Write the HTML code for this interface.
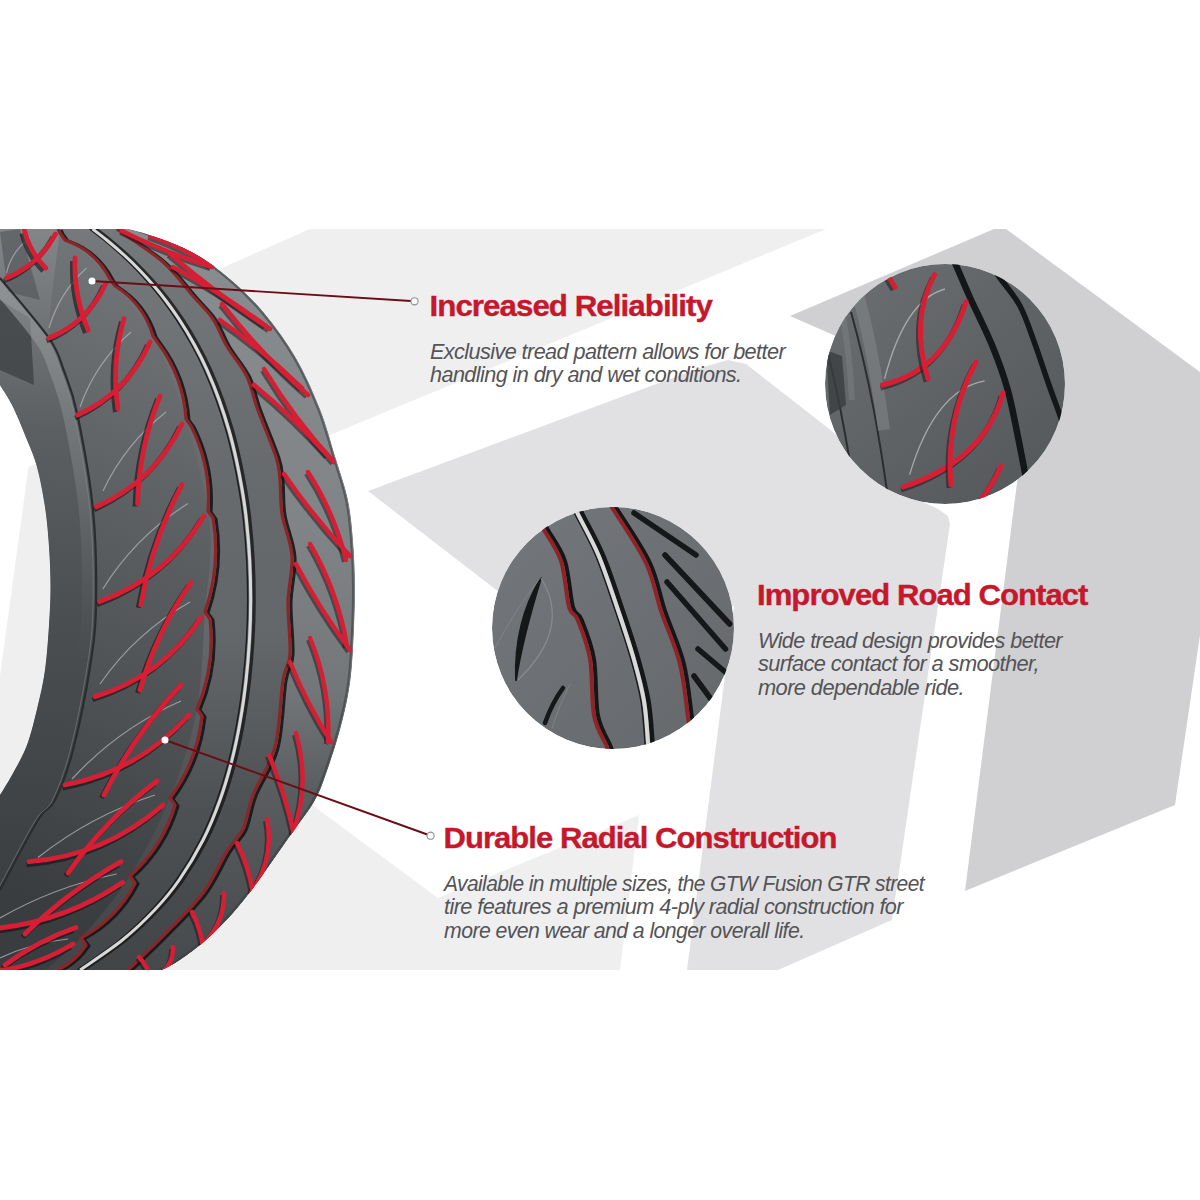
<!DOCTYPE html>
<html><head><meta charset="utf-8">
<style>
html,body{margin:0;padding:0;background:#fff;}
body{width:1200px;height:1200px;overflow:hidden;position:relative;}
svg{position:absolute;left:0;top:0;display:block;}
.h{font-family:"Liberation Sans",sans-serif;font-weight:bold;fill:#c5182c;letter-spacing:-0.9px;stroke:#c5182c;stroke-width:0.35px;}
.b{font-family:"Liberation Sans",sans-serif;font-style:italic;fill:#545457;letter-spacing:-0.6px;}
</style></head>
<body>
<svg width="1200" height="1200" viewBox="0 0 1200 1200">
<defs>
  <clipPath id="band"><rect x="0" y="229" width="1200" height="741"/></clipPath>
  <clipPath id="c1"><circle cx="945" cy="384" r="120"/></clipPath>
  <clipPath id="c2"><circle cx="613" cy="628" r="121"/></clipPath>
  <linearGradient id="tg" x1="300" y1="300" x2="40" y2="900" gradientUnits="userSpaceOnUse">
    <stop offset="0" stop-color="#75787b"/>
    <stop offset="0.25" stop-color="#66696c"/>
    <stop offset="0.45" stop-color="#5a5d60"/>
    <stop offset="0.7" stop-color="#4d5053"/>
    <stop offset="1" stop-color="#3a3d40"/>
  </linearGradient>
  <linearGradient id="sg" x1="0" y1="229" x2="0" y2="890" gradientUnits="userSpaceOnUse">
    <stop offset="0" stop-color="#85888b"/>
    <stop offset="0.3" stop-color="#5c5f62"/>
    <stop offset="0.6" stop-color="#4a4d50"/>
    <stop offset="1" stop-color="#3c3f42"/>
  </linearGradient>
  <linearGradient id="c1g" x1="850" y1="280" x2="1040" y2="500" gradientUnits="userSpaceOnUse">
    <stop offset="0" stop-color="#6a6d70"/>
    <stop offset="1" stop-color="#55585b"/>
  </linearGradient>
  <linearGradient id="c2g" x1="500" y1="520" x2="720" y2="740" gradientUnits="userSpaceOnUse">
    <stop offset="0" stop-color="#73767a"/>
    <stop offset="1" stop-color="#66696c"/>
  </linearGradient>
  <linearGradient id="lbg" x1="0" y1="280" x2="0" y2="660" gradientUnits="userSpaceOnUse">
    <stop offset="0" stop-color="#9a9da0" stop-opacity="0.7"/>
    <stop offset="0.5" stop-color="#8a8d90" stop-opacity="0.4"/>
    <stop offset="1" stop-color="#6a6d70" stop-opacity="0"/>
  </linearGradient>
  <linearGradient id="midg" x1="0" y1="229" x2="0" y2="970" gradientUnits="userSpaceOnUse">
    <stop offset="0" stop-color="#76797c"/>
    <stop offset="0.35" stop-color="#676a6d"/>
    <stop offset="0.55" stop-color="#646769"/>
    <stop offset="0.78" stop-color="#4e5154"/>
    <stop offset="1" stop-color="#424548"/>
  </linearGradient>
  <linearGradient id="outg" x1="0" y1="229" x2="0" y2="970" gradientUnits="userSpaceOnUse">
    <stop offset="0" stop-color="#8a8d90"/>
    <stop offset="0.4" stop-color="#818487"/>
    <stop offset="0.62" stop-color="#74777a"/>
    <stop offset="0.76" stop-color="#5a5d60"/>
    <stop offset="1" stop-color="#46494c"/>
  </linearGradient>
</defs>
<g id="bg" clip-path="url(#band)">
  <polygon fill="#efeff0" points="310,229 826,229 330,435 280,456 150,300"/>
  <polygon fill="#efeff0" points="28.5,467 120,430 120,900 0,900 0,676"/>
  <polygon fill="#efeff0" points="639,815 620,970 100,970 100,730 250,759 438,898"/>
  <polygon fill="#e1e1e3" points="368,491 640,390 700,368 728,360 746,364 828,428 910,496 938,509 948,516 950,524 892,920 778,970 687,970 734,606 613,628 530,616"/>
  <polygon fill="#d0d0d2" points="790,316 994,229 1006,229 1200,372 1200,635 1175,805 965,891 1018,475 945,384"/>
</g>
<g id="tire" clip-path="url(#band)">
<clipPath id="tclip"><path d="M0,229 L128,229  C144.2,232.7 174.2,242.7 190.0,251.0 C205.8,259.3 217.5,268.5 230.0,279.0 C242.5,289.5 254.0,300.8 265.0,314.0 C276.0,327.2 286.8,342.2 296.0,358.0 C305.2,373.8 313.3,392.2 320.0,409.0 C326.7,425.8 331.3,443.8 336.0,459.0 C340.7,474.2 345.2,486.5 348.0,500.0 C350.8,513.5 351.8,525.0 353.0,540.0 C354.2,555.0 355.0,571.7 355.0,590.0 C355.0,608.3 354.0,633.3 353.0,650.0 C352.0,666.7 351.2,676.7 349.0,690.0 C346.8,703.3 343.8,716.0 340.0,730.0 C336.2,744.0 330.3,762.0 326.0,774.0 C321.7,786.0 320.0,791.7 314.0,802.0 C308.0,812.3 298.7,823.7 290.0,836.0 C281.3,848.3 271.3,863.3 262.0,876.0 C252.7,888.7 243.3,901.3 234.0,912.0 C224.7,922.7 215.0,932.0 206.0,940.0 C197.0,948.0 187.3,955.0 180.0,960.0 C172.7,965.0 165.0,968.3 162.0,970.0 L0,970 L0,795  C2.0,791.7 7.5,783.3 12.0,775.0 C16.5,766.7 22.8,756.3 27.0,745.0 C31.2,733.7 34.5,719.5 37.5,707.0 C40.5,694.5 43.1,683.7 45.0,670.0 C46.9,656.3 48.1,638.8 49.0,625.0 C49.9,611.2 50.5,600.0 50.5,587.0 C50.5,574.0 49.9,560.3 49.0,547.0 C48.1,533.7 47.0,520.3 45.0,507.0 C43.0,493.7 40.0,478.2 37.0,467.0 C34.0,455.8 31.0,450.0 27.0,440.0 C23.0,430.0 17.5,416.2 13.0,407.0 C8.5,397.8 2.2,388.7 0.0,385.0 Z"/></clipPath><g clip-path="url(#tclip)">
<path d="M0,229 L128,229  C144.2,232.7 174.2,242.7 190.0,251.0 C205.8,259.3 217.5,268.5 230.0,279.0 C242.5,289.5 254.0,300.8 265.0,314.0 C276.0,327.2 286.8,342.2 296.0,358.0 C305.2,373.8 313.3,392.2 320.0,409.0 C326.7,425.8 331.3,443.8 336.0,459.0 C340.7,474.2 345.2,486.5 348.0,500.0 C350.8,513.5 351.8,525.0 353.0,540.0 C354.2,555.0 355.0,571.7 355.0,590.0 C355.0,608.3 354.0,633.3 353.0,650.0 C352.0,666.7 351.2,676.7 349.0,690.0 C346.8,703.3 343.8,716.0 340.0,730.0 C336.2,744.0 330.3,762.0 326.0,774.0 C321.7,786.0 320.0,791.7 314.0,802.0 C308.0,812.3 298.7,823.7 290.0,836.0 C281.3,848.3 271.3,863.3 262.0,876.0 C252.7,888.7 243.3,901.3 234.0,912.0 C224.7,922.7 215.0,932.0 206.0,940.0 C197.0,948.0 187.3,955.0 180.0,960.0 C172.7,965.0 165.0,968.3 162.0,970.0 L0,970 L0,795  C2.0,791.7 7.5,783.3 12.0,775.0 C16.5,766.7 22.8,756.3 27.0,745.0 C31.2,733.7 34.5,719.5 37.5,707.0 C40.5,694.5 43.1,683.7 45.0,670.0 C46.9,656.3 48.1,638.8 49.0,625.0 C49.9,611.2 50.5,600.0 50.5,587.0 C50.5,574.0 49.9,560.3 49.0,547.0 C48.1,533.7 47.0,520.3 45.0,507.0 C43.0,493.7 40.0,478.2 37.0,467.0 C34.0,455.8 31.0,450.0 27.0,440.0 C23.0,430.0 17.5,416.2 13.0,407.0 C8.5,397.8 2.2,388.7 0.0,385.0 Z" fill="url(#tg)"/>
<path d="M58.0,229.0 C66.7,237.3 94.2,261.2 110.0,279.0 C125.8,296.8 140.3,312.7 153.0,336.0 C165.7,359.3 176.8,389.8 186.0,419.0 C195.2,448.2 204.0,487.5 208.0,511.0 C212.0,534.5 210.5,543.2 210.0,560.0 C209.5,576.8 207.2,587.2 205.0,612.0 C202.8,636.8 202.8,678.0 197.0,709.0 C191.2,740.0 181.2,770.2 170.0,798.0 C158.8,825.8 144.8,852.7 130.0,876.0 C115.2,899.3 96.0,921.5 81.0,938.0 C66.0,954.5 46.8,968.8 40.0,975.0 L128.0,970.0  C133.8,964.3 150.5,948.8 163.0,936.0 C175.5,923.2 192.3,907.2 203.0,893.0 C213.7,878.8 220.3,861.7 227.0,851.0 C233.7,840.3 238.7,838.3 243.0,829.0 C247.3,819.7 247.7,808.7 253.0,795.0 C258.3,781.3 270.0,766.2 275.0,747.0 C280.0,727.8 280.5,695.5 283.0,680.0 C285.5,664.5 289.2,667.0 290.0,654.0 C290.8,641.0 287.7,618.3 288.0,602.0 C288.3,585.7 293.0,570.7 292.0,556.0 C291.0,541.3 284.0,526.7 282.0,514.0 C280.0,501.3 281.0,489.5 280.0,480.0 C279.0,470.5 279.8,468.8 276.0,457.0 C272.2,445.2 262.4,422.5 257.5,409.0 C252.6,395.5 251.8,386.5 246.7,376.0 C241.6,365.5 232.3,355.5 226.7,346.0 C221.1,336.5 218.6,327.3 213.0,319.0 C207.4,310.7 201.3,305.5 193.0,296.0 C184.7,286.5 175.7,273.2 163.0,262.0 C150.3,250.8 124.4,234.5 116.7,229.0 Z" fill="url(#midg)"/>
<path d="M116.7,229.0 C124.4,234.5 150.3,250.8 163.0,262.0 C175.7,273.2 184.7,286.5 193.0,296.0 C201.3,305.5 207.4,310.7 213.0,319.0 C218.6,327.3 221.1,336.5 226.7,346.0 C232.3,355.5 241.6,365.5 246.7,376.0 C251.8,386.5 252.6,395.5 257.5,409.0 C262.4,422.5 272.2,445.2 276.0,457.0 C279.8,468.8 279.0,470.5 280.0,480.0 C281.0,489.5 280.0,501.3 282.0,514.0 C284.0,526.7 291.0,541.3 292.0,556.0 C293.0,570.7 288.3,585.7 288.0,602.0 C287.7,618.3 290.8,641.0 290.0,654.0 C289.2,667.0 285.5,664.5 283.0,680.0 C280.5,695.5 280.0,727.8 275.0,747.0 C270.0,766.2 258.3,781.3 253.0,795.0 C247.7,808.7 247.3,819.7 243.0,829.0 C238.7,838.3 233.7,840.3 227.0,851.0 C220.3,861.7 213.7,878.8 203.0,893.0 C192.3,907.2 175.5,923.2 163.0,936.0 C150.5,948.8 133.8,964.3 128.0,970.0 L162.0,970.0  C165.0,968.3 172.7,965.0 180.0,960.0 C187.3,955.0 197.0,948.0 206.0,940.0 C215.0,932.0 224.7,922.7 234.0,912.0 C243.3,901.3 252.7,888.7 262.0,876.0 C271.3,863.3 281.3,848.3 290.0,836.0 C298.7,823.7 308.0,812.3 314.0,802.0 C320.0,791.7 321.7,786.0 326.0,774.0 C330.3,762.0 336.2,744.0 340.0,730.0 C343.8,716.0 346.8,703.3 349.0,690.0 C351.2,676.7 352.0,666.7 353.0,650.0 C354.0,633.3 355.0,608.3 355.0,590.0 C355.0,571.7 354.2,555.0 353.0,540.0 C351.8,525.0 350.8,513.5 348.0,500.0 C345.2,486.5 340.7,474.2 336.0,459.0 C331.3,443.8 326.7,425.8 320.0,409.0 C313.3,392.2 305.2,373.8 296.0,358.0 C286.8,342.2 276.0,327.2 265.0,314.0 C254.0,300.8 242.5,289.5 230.0,279.0 C217.5,268.5 205.8,259.3 190.0,251.0 C174.2,242.7 144.2,232.7 135.0,229.0 Z" fill="url(#outg)"/>
<path d="M0,229 L60,229  C58.2,247.2 48.3,314.3 49.0,338.0 C49.7,361.7 59.2,358.2 64.0,371.0 C68.8,383.8 72.7,391.8 77.5,415.0 C82.3,438.2 89.9,478.3 93.0,510.0 C96.1,541.7 96.5,578.8 96.0,605.0 C95.5,631.2 93.8,642.8 90.0,667.0 C86.2,691.2 78.8,727.8 73.0,750.0 C67.2,772.2 60.8,788.3 55.0,800.0 C49.2,811.7 47.2,805.0 38.0,820.0 C28.8,835.0 6.3,878.3 0.0,890.0 Z" fill="url(#sg)" opacity="0.9"/>
<path d="M0,300 L30,318 L34,385 L0,370 Z" fill="#3f4245" opacity="0.8"/>
<path d="M0,232 L20,229 L40,300 L8,292 Z" fill="#505356" opacity="0.6"/>
<path d="M-8.0,280.0 C0.2,290.0 30.3,324.5 41.0,340.0 C51.7,355.5 51.2,360.2 56.0,373.0 C60.8,385.8 64.7,393.8 69.5,417.0 C74.3,440.2 81.9,480.3 85.0,512.0 C88.1,543.7 88.5,580.8 88.0,607.0 C87.5,633.2 83.0,658.7 82.0,669.0" fill="none" stroke="url(#lbg)" stroke-width="12"/>
<path d="M0.0,278.0 C8.2,288.0 38.3,322.5 49.0,338.0 C59.7,353.5 59.2,358.2 64.0,371.0 C68.8,383.8 72.7,391.8 77.5,415.0 C82.3,438.2 89.9,478.3 93.0,510.0 C96.1,541.7 96.5,578.8 96.0,605.0 C95.5,631.2 93.8,642.8 90.0,667.0 C86.2,691.2 78.8,727.8 73.0,750.0 C67.2,772.2 60.8,788.3 55.0,800.0 C49.2,811.7 47.2,805.0 38.0,820.0 C28.8,835.0 6.3,878.3 0.0,890.0" fill="none" stroke="#2a2c2e" stroke-width="2.2"/>
<path d="M-3.0,279.0 C5.2,289.0 35.3,323.5 46.0,339.0 C56.7,354.5 56.2,359.2 61.0,372.0 C65.8,384.8 69.7,392.8 74.5,416.0 C79.3,439.2 86.9,479.3 90.0,511.0 C93.1,542.7 93.5,579.8 93.0,606.0 C92.5,632.2 90.8,643.8 87.0,668.0 C83.2,692.2 75.8,728.8 70.0,751.0 C64.2,773.2 57.8,789.3 52.0,801.0 C46.2,812.7 44.2,806.0 35.0,821.0 C25.8,836.0 3.3,879.3 -3.0,891.0" fill="none" stroke="#8a8d90" stroke-width="1" opacity="0.5"/>
<path d="M58.0,229.0 Q59.0,231.0 60.0,233.0 L65.0,240.0 Q95.4,250.4 110.0,279.0 L115.0,286.0 Q143.6,303.7 153.0,336.0 L158.0,343.0 Q183.3,376.9 186.0,419.0 L191.0,426.0 Q211.3,466.1 208.0,511.0 L213.0,518.0 Q221.0,566.0 205.0,612.0 L210.0,619.0 Q215.4,665.7 197.0,709.0 L202.0,716.0 Q197.2,761.4 170.0,798.0 L175.0,805.0 Q162.6,846.9 130.0,876.0 L135.0,883.0 Q116.6,918.9 81.0,938.0 L86.0,945.0 Q69.6,970.1 40.0,975.0" fill="none" stroke="#141516" stroke-width="3" opacity="0.9" transform="translate(3,1)"/>
<path d="M58.0,229.0 Q59.0,231.0 60.0,233.0 L65.0,240.0 Q95.4,250.4 110.0,279.0 L115.0,286.0 Q143.6,303.7 153.0,336.0 L158.0,343.0 Q183.3,376.9 186.0,419.0 L191.0,426.0 Q211.3,466.1 208.0,511.0 L213.0,518.0 Q221.0,566.0 205.0,612.0 L210.0,619.0 Q215.4,665.7 197.0,709.0 L202.0,716.0 Q197.2,761.4 170.0,798.0 L175.0,805.0 Q162.6,846.9 130.0,876.0 L135.0,883.0 Q116.6,918.9 81.0,938.0 L86.0,945.0 Q69.6,970.1 40.0,975.0" fill="none" stroke="#8c2528" stroke-width="3.2" stroke-linejoin="round"/>
<path d="M96.2,229.0 C98.5,230.8 105.0,235.7 110.2,240.0 C115.4,244.3 122.1,250.0 127.6,255.0 C133.1,260.0 138.2,265.0 143.0,270.0 C147.8,275.0 152.4,280.0 156.7,285.0 C161.0,290.0 164.5,294.2 168.9,300.0 C173.3,305.8 178.2,312.5 183.1,320.0 C188.0,327.5 193.5,336.7 198.1,345.0 C202.7,353.3 206.5,360.8 210.6,370.0 C214.7,379.2 219.1,390.0 222.7,400.0 C226.3,410.0 229.5,420.0 232.4,430.0 C235.3,440.0 237.7,450.0 239.9,460.0 C242.1,470.0 244.0,480.0 245.7,490.0 C247.4,500.0 248.7,508.3 249.9,520.0 C251.2,531.7 252.5,546.7 253.2,560.0 C253.9,573.3 254.2,586.7 254.2,600.0 C254.2,613.3 253.8,626.7 253.0,640.0 C252.2,653.3 251.1,666.7 249.6,680.0 C248.1,693.3 246.2,706.7 243.9,720.0 C241.6,733.3 238.9,746.7 235.5,760.0 C232.1,773.3 228.3,786.7 223.5,800.0 C218.7,813.3 213.4,826.7 206.6,840.0 C199.8,853.3 190.8,868.3 182.7,880.0 C174.6,891.7 167.6,900.0 158.1,910.0 C148.6,920.0 138.3,930.0 125.9,940.0 C113.5,950.0 90.7,965.0 83.7,970.0" fill="none" stroke="#151617" stroke-width="3.2" opacity="0.8"/>
<path d="M89.7,229.0 C92.0,230.8 98.5,235.7 103.7,240.0 C108.9,244.3 115.6,250.0 121.1,255.0 C126.6,260.0 131.7,265.0 136.5,270.0 C141.3,275.0 145.9,280.0 150.2,285.0 C154.5,290.0 158.0,294.2 162.4,300.0 C166.8,305.8 171.7,312.5 176.6,320.0 C181.5,327.5 187.0,336.7 191.6,345.0 C196.2,353.3 200.0,360.8 204.1,370.0 C208.2,379.2 212.6,390.0 216.2,400.0 C219.8,410.0 223.0,420.0 225.9,430.0 C228.8,440.0 231.2,450.0 233.4,460.0 C235.6,470.0 237.5,480.0 239.2,490.0 C240.9,500.0 242.2,508.3 243.4,520.0 C244.7,531.7 246.0,546.7 246.7,560.0 C247.4,573.3 247.7,586.7 247.7,600.0 C247.7,613.3 247.3,626.7 246.5,640.0 C245.7,653.3 244.6,666.7 243.1,680.0 C241.6,693.3 239.8,706.7 237.4,720.0 C235.1,733.3 232.4,746.7 229.0,760.0 C225.6,773.3 221.8,786.7 217.0,800.0 C212.2,813.3 206.9,826.7 200.1,840.0 C193.3,853.3 184.3,868.3 176.2,880.0 C168.1,891.7 161.1,900.0 151.6,910.0 C142.1,920.0 131.8,930.0 119.4,940.0 C107.0,950.0 84.2,965.0 77.2,970.0" fill="none" stroke="#1c1d1e" stroke-width="1.5"/>
<path d="M92.7,229.0 C95.0,230.8 101.5,235.7 106.7,240.0 C111.9,244.3 118.6,250.0 124.1,255.0 C129.6,260.0 134.7,265.0 139.5,270.0 C144.3,275.0 148.9,280.0 153.2,285.0 C157.5,290.0 161.0,294.2 165.4,300.0 C169.8,305.8 174.7,312.5 179.6,320.0 C184.5,327.5 190.0,336.7 194.6,345.0 C199.2,353.3 203.0,360.8 207.1,370.0 C211.2,379.2 215.6,390.0 219.2,400.0 C222.8,410.0 226.0,420.0 228.9,430.0 C231.8,440.0 234.2,450.0 236.4,460.0 C238.6,470.0 240.5,480.0 242.2,490.0 C243.9,500.0 245.2,508.3 246.4,520.0 C247.7,531.7 249.0,546.7 249.7,560.0 C250.4,573.3 250.7,586.7 250.7,600.0 C250.7,613.3 250.3,626.7 249.5,640.0 C248.7,653.3 247.6,666.7 246.1,680.0 C244.6,693.3 242.8,706.7 240.4,720.0 C238.1,733.3 235.4,746.7 232.0,760.0 C228.6,773.3 224.8,786.7 220.0,800.0 C215.2,813.3 209.9,826.7 203.1,840.0 C196.3,853.3 187.3,868.3 179.2,880.0 C171.1,891.7 164.1,900.0 154.6,910.0 C145.1,920.0 134.8,930.0 122.4,940.0 C110.0,950.0 87.2,965.0 80.2,970.0" fill="none" stroke="#d8d8d8" stroke-width="3"/>
<path d="M119.7,230.0 C127.4,235.5 153.3,251.8 166.0,263.0 C178.7,274.2 187.7,287.5 196.0,297.0 C204.3,306.5 210.4,311.7 216.0,320.0 C221.6,328.3 224.1,337.5 229.7,347.0 C235.3,356.5 244.6,366.5 249.7,377.0 C254.8,387.5 255.6,396.5 260.5,410.0 C265.4,423.5 275.2,446.2 279.0,458.0 C282.8,469.8 282.0,471.5 283.0,481.0 C284.0,490.5 283.0,502.3 285.0,515.0 C287.0,527.7 294.0,542.3 295.0,557.0 C296.0,571.7 291.3,586.7 291.0,603.0 C290.7,619.3 293.8,642.0 293.0,655.0 C292.2,668.0 288.5,665.5 286.0,681.0 C283.5,696.5 283.0,728.8 278.0,748.0 C273.0,767.2 261.3,782.3 256.0,796.0 C250.7,809.7 250.3,820.7 246.0,830.0 C241.7,839.3 236.7,841.3 230.0,852.0 C223.3,862.7 216.7,879.8 206.0,894.0 C195.3,908.2 178.5,924.2 166.0,937.0 C153.5,949.8 136.8,965.3 131.0,971.0" fill="none" stroke="#141516" stroke-width="3" opacity="0.9"/>
<path d="M116.7,229.0 C124.4,234.5 150.3,250.8 163.0,262.0 C175.7,273.2 184.7,286.5 193.0,296.0 C201.3,305.5 207.4,310.7 213.0,319.0 C218.6,327.3 221.1,336.5 226.7,346.0 C232.3,355.5 241.6,365.5 246.7,376.0 C251.8,386.5 252.6,395.5 257.5,409.0 C262.4,422.5 272.2,445.2 276.0,457.0 C279.8,468.8 279.0,470.5 280.0,480.0 C281.0,489.5 280.0,501.3 282.0,514.0 C284.0,526.7 291.0,541.3 292.0,556.0 C293.0,570.7 288.3,585.7 288.0,602.0 C287.7,618.3 290.8,641.0 290.0,654.0 C289.2,667.0 285.5,664.5 283.0,680.0 C280.5,695.5 280.0,727.8 275.0,747.0 C270.0,766.2 258.3,781.3 253.0,795.0 C247.7,808.7 247.3,819.7 243.0,829.0 C238.7,838.3 233.7,840.3 227.0,851.0 C220.3,861.7 213.7,878.8 203.0,893.0 C192.3,907.2 175.5,923.2 163.0,936.0 C150.5,948.8 133.8,964.3 128.0,970.0" fill="none" stroke="#8c2528" stroke-width="3.2"/>
<path d="M133.0,229.0 C142.2,232.7 172.2,242.7 188.0,251.0 C203.8,259.3 215.5,268.5 228.0,279.0 C240.5,289.5 252.0,300.8 263.0,314.0 C274.0,327.2 284.8,342.2 294.0,358.0 C303.2,373.8 311.3,392.2 318.0,409.0 C324.7,425.8 329.3,443.8 334.0,459.0 C338.7,474.2 343.2,486.5 346.0,500.0 C348.8,513.5 349.8,525.0 351.0,540.0 C352.2,555.0 353.0,571.7 353.0,590.0 C353.0,608.3 352.0,633.3 351.0,650.0 C350.0,666.7 349.2,676.7 347.0,690.0 C344.8,703.3 341.8,716.0 338.0,730.0 C334.2,744.0 328.3,762.0 324.0,774.0 C319.7,786.0 318.0,791.7 312.0,802.0 C306.0,812.3 296.7,823.7 288.0,836.0 C279.3,848.3 269.3,863.3 260.0,876.0 C250.7,888.7 241.3,901.3 232.0,912.0 C222.7,922.7 213.0,932.0 204.0,940.0 C195.0,948.0 185.3,955.0 178.0,960.0 C170.7,965.0 163.0,968.3 160.0,970.0" fill="none" stroke="#3a3d40" stroke-width="2" opacity="0.6"/>
<path d="M6.5,273.0 Q11.6,251.0 30.0,238.0" fill="none" stroke="#aaaeb0" stroke-width="1.2" opacity="0.8"/>
<path d="M6.5,278.0 Q39.0,264.9 55.5,234.0" fill="none" stroke="#111" stroke-width="5" opacity="0.6" transform="translate(-2.5,3)"/>
<path d="M24.5,230.5 Q29.9,252.2 45.7,268.0" fill="none" stroke="#111" stroke-width="5" opacity="0.6" transform="translate(-2.5,3)"/>
<path d="M6.5,278.0 Q39.0,264.9 55.5,234.0" fill="none" stroke="#d61f35" stroke-width="4.8" stroke-linecap="round"/>
<path d="M24.5,230.5 Q29.9,252.2 45.7,268.0" fill="none" stroke="#d61f35" stroke-width="4.8" stroke-linecap="round"/>
<path d="M49.0,328.0 Q59.3,292.7 86.6,268.0" fill="none" stroke="#aaaeb0" stroke-width="1.2" opacity="0.8"/>
<path d="M49.0,338.0 Q88.6,322.0 106.0,283.0" fill="none" stroke="#111" stroke-width="5" opacity="0.6" transform="translate(-2.5,3)"/>
<path d="M75.0,258.0 Q73.6,295.4 88.0,330.0" fill="none" stroke="#111" stroke-width="5" opacity="0.6" transform="translate(-2.5,3)"/>
<path d="M49.0,338.0 Q88.6,322.0 106.0,283.0" fill="none" stroke="#d61f35" stroke-width="4.8" stroke-linecap="round"/>
<path d="M75.0,258.0 Q73.6,295.4 88.0,330.0" fill="none" stroke="#d61f35" stroke-width="4.8" stroke-linecap="round"/>
<path d="M80.0,407.0 Q95.6,362.8 131.0,332.0" fill="none" stroke="#aaaeb0" stroke-width="1.2" opacity="0.8"/>
<path d="M77.5,415.0 Q127.9,392.6 150.0,342.0" fill="none" stroke="#111" stroke-width="5" opacity="0.6" transform="translate(-2.5,3)"/>
<path d="M124.0,318.7 Q111.0,363.2 118.0,409.0" fill="none" stroke="#111" stroke-width="5" opacity="0.6" transform="translate(-2.5,3)"/>
<path d="M77.5,415.0 Q127.9,392.6 150.0,342.0" fill="none" stroke="#d61f35" stroke-width="4.8" stroke-linecap="round"/>
<path d="M124.0,318.7 Q111.0,363.2 118.0,409.0" fill="none" stroke="#d61f35" stroke-width="4.8" stroke-linecap="round"/>
<path d="M103.0,491.0 Q125.1,444.0 166.0,412.0" fill="none" stroke="#aaaeb0" stroke-width="1.2" opacity="0.8"/>
<path d="M96.5,506.7 Q154.5,481.2 182.0,424.0" fill="none" stroke="#111" stroke-width="5" opacity="0.6" transform="translate(-2.5,3)"/>
<path d="M160.0,396.0 Q139.0,447.7 137.6,503.5" fill="none" stroke="#111" stroke-width="5" opacity="0.6" transform="translate(-2.5,3)"/>
<path d="M96.5,506.7 Q154.5,481.2 182.0,424.0" fill="none" stroke="#d61f35" stroke-width="4.8" stroke-linecap="round"/>
<path d="M160.0,396.0 Q139.0,447.7 137.6,503.5" fill="none" stroke="#d61f35" stroke-width="4.8" stroke-linecap="round"/>
<path d="M102.8,589.0 Q135.5,536.4 188.0,503.5" fill="none" stroke="#aaaeb0" stroke-width="1.2" opacity="0.8"/>
<path d="M99.6,601.6 Q167.0,577.4 204.0,516.0" fill="none" stroke="#111" stroke-width="5" opacity="0.6" transform="translate(-2.5,3)"/>
<path d="M182.0,484.6 Q151.9,541.5 140.8,604.8" fill="none" stroke="#111" stroke-width="5" opacity="0.6" transform="translate(-2.5,3)"/>
<path d="M99.6,601.6 Q167.0,577.4 204.0,516.0" fill="none" stroke="#d61f35" stroke-width="4.8" stroke-linecap="round"/>
<path d="M182.0,484.6 Q151.9,541.5 140.8,604.8" fill="none" stroke="#d61f35" stroke-width="4.8" stroke-linecap="round"/>
<path d="M100.0,684.0 Q135.6,632.7 190.0,602.0" fill="none" stroke="#aaaeb0" stroke-width="1.2" opacity="0.8"/>
<path d="M95.0,696.6 Q162.4,676.3 201.0,617.5" fill="none" stroke="#111" stroke-width="5" opacity="0.6" transform="translate(-2.5,3)"/>
<path d="M191.0,582.6 Q156.5,632.0 140.0,690.0" fill="none" stroke="#111" stroke-width="5" opacity="0.6" transform="translate(-2.5,3)"/>
<path d="M95.0,696.6 Q162.4,676.3 201.0,617.5" fill="none" stroke="#d61f35" stroke-width="4.8" stroke-linecap="round"/>
<path d="M191.0,582.6 Q156.5,632.0 140.0,690.0" fill="none" stroke="#d61f35" stroke-width="4.8" stroke-linecap="round"/>
<path d="M72.0,779.0 Q118.4,728.6 181.0,701.0" fill="none" stroke="#aaaeb0" stroke-width="1.2" opacity="0.8"/>
<path d="M65.0,785.0 Q138.8,770.9 189.0,715.0" fill="none" stroke="#111" stroke-width="5" opacity="0.6" transform="translate(-2.5,3)"/>
<path d="M181.0,685.0 Q134.3,734.3 104.0,795.0" fill="none" stroke="#111" stroke-width="5" opacity="0.6" transform="translate(-2.5,3)"/>
<path d="M65.0,785.0 Q138.8,770.9 189.0,715.0" fill="none" stroke="#d61f35" stroke-width="4.8" stroke-linecap="round"/>
<path d="M181.0,685.0 Q134.3,734.3 104.0,795.0" fill="none" stroke="#d61f35" stroke-width="4.8" stroke-linecap="round"/>
<path d="M38.0,857.5 Q90.8,815.7 155.0,795.0" fill="none" stroke="#aaaeb0" stroke-width="1.2" opacity="0.8"/>
<path d="M29.0,861.7 Q105.4,855.5 163.0,805.0" fill="none" stroke="#111" stroke-width="5" opacity="0.6" transform="translate(-2.5,3)"/>
<path d="M157.0,781.0 Q105.3,820.0 68.0,873.0" fill="none" stroke="#111" stroke-width="5" opacity="0.6" transform="translate(-2.5,3)"/>
<path d="M29.0,861.7 Q105.4,855.5 163.0,805.0" fill="none" stroke="#d61f35" stroke-width="4.8" stroke-linecap="round"/>
<path d="M157.0,781.0 Q105.3,820.0 68.0,873.0" fill="none" stroke="#d61f35" stroke-width="4.8" stroke-linecap="round"/>
<path d="M0.0,918.0 Q54.8,886.6 116.7,874.0" fill="none" stroke="#aaaeb0" stroke-width="1.2" opacity="0.8"/>
<path d="M0.0,928.0 Q66.8,920.2 122.5,882.5" fill="none" stroke="#111" stroke-width="5" opacity="0.6" transform="translate(-2.5,3)"/>
<path d="M121.0,861.7 Q68.2,891.5 25.0,934.0" fill="none" stroke="#111" stroke-width="5" opacity="0.6" transform="translate(-2.5,3)"/>
<path d="M0.0,928.0 Q66.8,920.2 122.5,882.5" fill="none" stroke="#d61f35" stroke-width="4.8" stroke-linecap="round"/>
<path d="M121.0,861.7 Q68.2,891.5 25.0,934.0" fill="none" stroke="#d61f35" stroke-width="4.8" stroke-linecap="round"/>
<path d="M0.0,958.0 Q32.4,942.7 68.0,939.0" fill="none" stroke="#aaaeb0" stroke-width="1.2" opacity="0.8"/>
<path d="M-10.0,972.0 Q34.7,967.5 73.0,944.0" fill="none" stroke="#111" stroke-width="5" opacity="0.6" transform="translate(-2.5,3)"/>
<path d="M76.0,927.5 Q37.7,940.9 5.0,965.0" fill="none" stroke="#111" stroke-width="5" opacity="0.6" transform="translate(-2.5,3)"/>
<path d="M-10.0,972.0 Q34.7,967.5 73.0,944.0" fill="none" stroke="#d61f35" stroke-width="4.8" stroke-linecap="round"/>
<path d="M76.0,927.5 Q37.7,940.9 5.0,965.0" fill="none" stroke="#d61f35" stroke-width="4.8" stroke-linecap="round"/>
<path d="M122.0,231.0 Q165.5,252.7 212.0,267.0" fill="none" stroke="#111" stroke-width="4" opacity="0.5" transform="translate(-2,2)"/>
<path d="M150.0,236.0 Q182.7,247.4 212.0,266.0" fill="none" stroke="#111" stroke-width="4" opacity="0.5" transform="translate(-2,2)"/>
<path d="M122.0,231.0 Q165.5,252.7 212.0,267.0" fill="none" stroke="#d61f35" stroke-width="4.5" stroke-linecap="round"/>
<path d="M150.0,236.0 Q182.7,247.4 212.0,266.0" fill="none" stroke="#d61f35" stroke-width="4.5" stroke-linecap="round"/>
<path d="M170.0,254.0 Q217.6,294.7 270.0,329.0" fill="none" stroke="#111" stroke-width="4" opacity="0.5" transform="translate(-2,2)"/>
<path d="M173.0,267.0 Q221.6,293.1 266.0,326.0" fill="none" stroke="#111" stroke-width="4" opacity="0.5" transform="translate(-2,2)"/>
<path d="M170.0,254.0 Q217.6,294.7 270.0,329.0" fill="none" stroke="#d61f35" stroke-width="4.5" stroke-linecap="round"/>
<path d="M173.0,267.0 Q221.6,293.1 266.0,326.0" fill="none" stroke="#d61f35" stroke-width="4.5" stroke-linecap="round"/>
<path d="M222.0,304.0 Q260.6,353.6 308.0,395.0" fill="none" stroke="#111" stroke-width="4" opacity="0.5" transform="translate(-2,2)"/>
<path d="M220.0,320.0 Q263.6,350.9 302.0,388.0" fill="none" stroke="#111" stroke-width="4" opacity="0.5" transform="translate(-2,2)"/>
<path d="M222.0,304.0 Q260.6,353.6 308.0,395.0" fill="none" stroke="#d61f35" stroke-width="4.5" stroke-linecap="round"/>
<path d="M220.0,320.0 Q263.6,350.9 302.0,388.0" fill="none" stroke="#d61f35" stroke-width="4.5" stroke-linecap="round"/>
<path d="M264.0,369.0 Q294.2,419.1 334.0,462.0" fill="none" stroke="#111" stroke-width="4" opacity="0.5" transform="translate(-2,2)"/>
<path d="M254.0,385.0 Q293.8,417.6 328.0,456.0" fill="none" stroke="#111" stroke-width="4" opacity="0.5" transform="translate(-2,2)"/>
<path d="M264.0,369.0 Q294.2,419.1 334.0,462.0" fill="none" stroke="#d61f35" stroke-width="4.5" stroke-linecap="round"/>
<path d="M254.0,385.0 Q293.8,417.6 328.0,456.0" fill="none" stroke="#d61f35" stroke-width="4.5" stroke-linecap="round"/>
<path d="M284.0,474.0 Q313.9,517.5 350.0,556.0" fill="none" stroke="#111" stroke-width="4" opacity="0.5" transform="translate(-2,2)"/>
<path d="M308.0,472.0 Q334.3,512.8 346.0,560.0" fill="none" stroke="#111" stroke-width="4" opacity="0.5" transform="translate(-2,2)"/>
<path d="M284.0,474.0 Q313.9,517.5 350.0,556.0" fill="none" stroke="#d61f35" stroke-width="4.5" stroke-linecap="round"/>
<path d="M308.0,472.0 Q334.3,512.8 346.0,560.0" fill="none" stroke="#d61f35" stroke-width="4.5" stroke-linecap="round"/>
<path d="M296.0,564.0 Q319.6,609.1 350.0,650.0" fill="none" stroke="#111" stroke-width="4" opacity="0.5" transform="translate(-2,2)"/>
<path d="M310.0,544.0 Q337.9,591.6 347.0,646.0" fill="none" stroke="#111" stroke-width="4" opacity="0.5" transform="translate(-2,2)"/>
<path d="M296.0,564.0 Q319.6,609.1 350.0,650.0" fill="none" stroke="#d61f35" stroke-width="4.5" stroke-linecap="round"/>
<path d="M310.0,544.0 Q337.9,591.6 347.0,646.0" fill="none" stroke="#d61f35" stroke-width="4.5" stroke-linecap="round"/>
<path d="M290.0,662.0 Q306.9,703.8 331.0,742.0" fill="none" stroke="#111" stroke-width="4" opacity="0.5" transform="translate(-2,2)"/>
<path d="M310.0,638.0 Q330.8,688.0 328.0,742.0" fill="none" stroke="#111" stroke-width="4" opacity="0.5" transform="translate(-2,2)"/>
<path d="M290.0,662.0 Q306.9,703.8 331.0,742.0" fill="none" stroke="#d61f35" stroke-width="4.5" stroke-linecap="round"/>
<path d="M310.0,638.0 Q330.8,688.0 328.0,742.0" fill="none" stroke="#d61f35" stroke-width="4.5" stroke-linecap="round"/>
<path d="M269.0,755.0 Q285.3,793.8 294.0,835.0" fill="none" stroke="#111" stroke-width="4" opacity="0.5" transform="translate(-2,2)"/>
<path d="M296.0,733.0 Q310.5,783.5 293.0,833.0" fill="none" stroke="#111" stroke-width="4" opacity="0.5" transform="translate(-2,2)"/>
<path d="M269.0,755.0 Q285.3,793.8 294.0,835.0" fill="none" stroke="#d61f35" stroke-width="4.5" stroke-linecap="round"/>
<path d="M296.0,733.0 Q310.5,783.5 293.0,833.0" fill="none" stroke="#d61f35" stroke-width="4.5" stroke-linecap="round"/>
<path d="M237.0,843.0 Q248.8,866.8 253.0,893.0" fill="none" stroke="#111" stroke-width="4" opacity="0.5" transform="translate(-2,2)"/>
<path d="M267.0,819.0 Q274.6,859.4 251.0,893.0" fill="none" stroke="#111" stroke-width="4" opacity="0.5" transform="translate(-2,2)"/>
<path d="M237.0,843.0 Q248.8,866.8 253.0,893.0" fill="none" stroke="#d61f35" stroke-width="4.5" stroke-linecap="round"/>
<path d="M267.0,819.0 Q274.6,859.4 251.0,893.0" fill="none" stroke="#d61f35" stroke-width="4.5" stroke-linecap="round"/>
<path d="M192.0,912.0 Q201.3,929.4 203.0,949.0" fill="none" stroke="#111" stroke-width="4" opacity="0.5" transform="translate(-2,2)"/>
<path d="M224.0,893.0 Q224.6,923.1 203.0,944.0" fill="none" stroke="#111" stroke-width="4" opacity="0.5" transform="translate(-2,2)"/>
<path d="M192.0,912.0 Q201.3,929.4 203.0,949.0" fill="none" stroke="#d61f35" stroke-width="4.5" stroke-linecap="round"/>
<path d="M224.0,893.0 Q224.6,923.1 203.0,944.0" fill="none" stroke="#d61f35" stroke-width="4.5" stroke-linecap="round"/>
<path d="M139.0,957.0 Q146.2,965.0 150.0,975.0" fill="none" stroke="#111" stroke-width="4" opacity="0.5" transform="translate(-2,2)"/>
<path d="M173.0,947.0 Q173.6,961.7 163.0,972.0" fill="none" stroke="#111" stroke-width="4" opacity="0.5" transform="translate(-2,2)"/>
<path d="M139.0,957.0 Q146.2,965.0 150.0,975.0" fill="none" stroke="#d61f35" stroke-width="4.5" stroke-linecap="round"/>
<path d="M173.0,947.0 Q173.6,961.7 163.0,972.0" fill="none" stroke="#d61f35" stroke-width="4.5" stroke-linecap="round"/>
</g>
</g>
<g clip-path="url(#c1)">
<circle cx="945" cy="384" r="120" fill="url(#c1g)"/>
<path d="M851,312 C870,380 880,440 889,505" fill="none" stroke="#2b2d2f" stroke-width="2"/>
<path d="M828,354 C840,400 846,440 851,468" fill="none" stroke="#2b2d2f" stroke-width="2"/>
<path d="M855,285 C866,320 876,370 884,430" fill="none" stroke="#8a8d90" stroke-width="12" opacity="0.45"/>
<path d="M826,350 L842,356 L846,405 L830,415 Z" fill="#3a3d40" opacity="0.8"/>
<path d="M840,300 C846,330 850,360 852,400" fill="none" stroke="#7d8083" stroke-width="6" opacity="0.5"/>
<path d="M950.0,255.0 C950.9,256.5 952.1,256.9 955.4,264.0 C958.7,271.1 963.7,283.6 970.0,297.5 C976.3,311.4 986.8,332.2 993.0,347.5 C999.2,362.8 1003.3,374.1 1007.5,389.0 C1011.7,403.9 1014.6,420.3 1018.0,437.0 C1021.4,453.7 1025.7,476.8 1028.0,489.0 C1030.3,501.2 1031.3,506.5 1032.0,510.0" fill="none" stroke="#151617" stroke-width="6.5"/>
<path d="M990.0,262.0 C991.5,264.4 994.0,269.4 999.0,276.7 C1004.0,284.0 1014.1,294.9 1020.0,306.0 C1025.9,317.1 1029.8,329.8 1034.6,343.0 C1039.4,356.2 1044.1,371.1 1049.0,385.0 C1053.9,398.9 1059.7,414.2 1064.0,426.7 C1068.3,439.2 1073.2,454.4 1075.0,460.0" fill="none" stroke="#151617" stroke-width="5.5"/>
<path d="M884.6,378.75 Q905,300 945,289" fill="none" stroke="#a6a9ab" stroke-width="1.3"/>
<path d="M909.6,474.6 Q935,390 984.6,380.8" fill="none" stroke="#a6a9ab" stroke-width="1.3"/>
<path d="M882.5,385 Q945,370 966,301.7" fill="none" stroke="#111" stroke-width="5" opacity="0.5" transform="translate(-2,3)"/>
<path d="M882.5,385 Q945,370 966,301.7" fill="none" stroke="#d61f35" stroke-width="5" stroke-linecap="round"/>
<path d="M934.6,274.6 Q910,320 928,378.75" fill="none" stroke="#111" stroke-width="5" opacity="0.5" transform="translate(-2,3)"/>
<path d="M934.6,274.6 Q910,320 928,378.75" fill="none" stroke="#d61f35" stroke-width="5" stroke-linecap="round"/>
<path d="M903,487 Q985,460 1003,393" fill="none" stroke="#111" stroke-width="5" opacity="0.5" transform="translate(-2,3)"/>
<path d="M903,487 Q985,460 1003,393" fill="none" stroke="#d61f35" stroke-width="5" stroke-linecap="round"/>
<path d="M976,362 Q945,420 951,485" fill="none" stroke="#111" stroke-width="5" opacity="0.5" transform="translate(-2,3)"/>
<path d="M976,362 Q945,420 951,485" fill="none" stroke="#d61f35" stroke-width="5" stroke-linecap="round"/>
<path d="M888.75,276.7 L895,287" fill="none" stroke="#111" stroke-width="5" opacity="0.5" transform="translate(-2,3)"/>
<path d="M888.75,276.7 L895,287" fill="none" stroke="#d61f35" stroke-width="5" stroke-linecap="round"/>
<path d="M1001,466 Q990,490 978,503" fill="none" stroke="#111" stroke-width="5" opacity="0.5" transform="translate(-2,3)"/>
<path d="M1001,466 Q990,490 978,503" fill="none" stroke="#d61f35" stroke-width="5" stroke-linecap="round"/>
</g>
<g clip-path="url(#c2)">
<circle cx="613" cy="628" r="121" fill="url(#c2g)"/>
<path d="M541,578 Q514,622 516,680 Q522,640 541,578 Z" fill="#161718" stroke="#161718" stroke-width="2" stroke-linejoin="round"/>
<path d="M541,578 Q572,628 518,680" fill="none" stroke="#8d9093" stroke-width="1.3" opacity="0.8"/>
<path d="M495,648 Q515,610 541,577" fill="none" stroke="#8d9093" stroke-width="1" opacity="0.6"/>
<path d="M563,688 Q552,703 545,723" fill="none" stroke="#161718" stroke-width="4.5" stroke-linecap="round"/>
<path d="M566,684 Q555,705 548,728" fill="none" stroke="#8d9093" stroke-width="1" opacity="0.6" transform="translate(4,0)"/>
<path d="M634,513 L696,555" fill="none" stroke="#161718" stroke-width="5.5" stroke-linecap="round"/>
<path d="M665,555 L729.7,624" fill="none" stroke="#161718" stroke-width="5.5" stroke-linecap="round"/>
<path d="M667,582 L725.5,649" fill="none" stroke="#161718" stroke-width="5.5" stroke-linecap="round"/>
<path d="M698,649 L727.6,674" fill="none" stroke="#161718" stroke-width="5.5" stroke-linecap="round"/>
<path d="M694,676 L716,706" fill="none" stroke="#161718" stroke-width="5.5" stroke-linecap="round"/>
<path d="M700,520 L740,560" fill="none" stroke="#161718" stroke-width="5.5" stroke-linecap="round"/>
<path d="M535.0,515.0 C536.5,517.5 539.7,522.3 544.0,530.0 C548.3,537.7 556.8,548.2 561.0,561.0 C565.2,573.8 566.2,597.2 569.0,607.0 C571.8,616.8 574.1,611.0 577.6,619.7 C581.1,628.4 587.3,643.0 590.0,659.0 C592.7,675.0 591.2,700.9 594.0,715.5 C596.8,730.1 604.1,739.3 606.8,746.8 C609.4,754.2 609.5,757.8 610.0,760.0" fill="none" stroke="#151617" stroke-width="4" transform="translate(4,0)"/>
<path d="M535.0,515.0 C536.5,517.5 539.7,522.3 544.0,530.0 C548.3,537.7 556.8,548.2 561.0,561.0 C565.2,573.8 566.2,597.2 569.0,607.0 C571.8,616.8 574.1,611.0 577.6,619.7 C581.1,628.4 587.3,643.0 590.0,659.0 C592.7,675.0 591.2,700.9 594.0,715.5 C596.8,730.1 604.1,739.3 606.8,746.8 C609.4,754.2 609.5,757.8 610.0,760.0" fill="none" stroke="#8e2427" stroke-width="4"/>
<path d="M605.0,498.0 C606.3,499.8 606.2,498.2 613.0,509.0 C619.8,519.8 638.0,546.0 646.0,563.0 C654.0,580.0 655.4,594.3 661.0,611.0 C666.6,627.7 675.2,645.2 679.7,663.0 C684.2,680.8 686.0,703.1 688.0,717.6 C690.0,732.1 691.3,744.6 692.0,750.0" fill="none" stroke="#151617" stroke-width="4" transform="translate(4,0)"/>
<path d="M605.0,498.0 C606.3,499.8 606.2,498.2 613.0,509.0 C619.8,519.8 638.0,546.0 646.0,563.0 C654.0,580.0 655.4,594.3 661.0,611.0 C666.6,627.7 675.2,645.2 679.7,663.0 C684.2,680.8 686.0,703.1 688.0,717.6 C690.0,732.1 691.3,744.6 692.0,750.0" fill="none" stroke="#8e2427" stroke-width="4"/>
<path d="M572.0,500.0 C572.9,502.2 573.2,504.2 577.6,513.4 C582.0,522.6 591.8,539.4 598.4,555.0 C605.0,570.6 611.1,589.7 617.0,607.0 C622.9,624.3 629.3,643.3 633.8,659.0 C638.3,674.7 641.6,687.1 644.0,701.0 C646.4,714.9 647.2,732.8 648.0,742.6 C648.8,752.4 648.8,757.1 649.0,760.0" fill="none" stroke="#151617" stroke-width="4.5" transform="translate(4.5,0)"/>
<path d="M572.0,500.0 C572.9,502.2 573.2,504.2 577.6,513.4 C582.0,522.6 591.8,539.4 598.4,555.0 C605.0,570.6 611.1,589.7 617.0,607.0 C622.9,624.3 629.3,643.3 633.8,659.0 C638.3,674.7 641.6,687.1 644.0,701.0 C646.4,714.9 647.2,732.8 648.0,742.6 C648.8,752.4 648.8,757.1 649.0,760.0" fill="none" stroke="#1a1b1c" stroke-width="1.5" transform="translate(-3,0)"/>
<path d="M572.0,500.0 C572.9,502.2 573.2,504.2 577.6,513.4 C582.0,522.6 591.8,539.4 598.4,555.0 C605.0,570.6 611.1,589.7 617.0,607.0 C622.9,624.3 629.3,643.3 633.8,659.0 C638.3,674.7 641.6,687.1 644.0,701.0 C646.4,714.9 647.2,732.8 648.0,742.6 C648.8,752.4 648.8,757.1 649.0,760.0" fill="none" stroke="#d9d9d9" stroke-width="4"/>
</g>
<g stroke="#6a0d14" stroke-width="1.9" fill="none">
  <line x1="92" y1="281" x2="411" y2="301"/>
  <line x1="165" y1="740" x2="427.3" y2="834.5"/>
</g>
<circle cx="92" cy="281" r="3.5" fill="#fff"/>
<circle cx="165" cy="740" r="3.5" fill="#fff"/>
<circle cx="414.5" cy="301.3" r="3.6" fill="#fff" stroke="#8f8f8f" stroke-width="1.1"/>
<circle cx="430.6" cy="835.7" r="3.6" fill="#fff" stroke="#8f8f8f" stroke-width="1.1"/>

<text class="h" x="429.5" y="315.7" font-size="29.3" textLength="282.5" lengthAdjust="spacingAndGlyphs">Increased Reliability</text>
<text class="b" x="430" y="359" font-size="21.9" textLength="355" lengthAdjust="spacingAndGlyphs">Exclusive tread pattern allows for better</text>
<text class="b" x="430" y="381.8" font-size="21.9" textLength="311.5" lengthAdjust="spacingAndGlyphs">handling in dry and wet conditions.</text>

<text class="h" x="757" y="604.5" font-size="29.3" textLength="330.5" lengthAdjust="spacingAndGlyphs">Improved Road Contact</text>
<text class="b" x="758" y="647.5" font-size="21.9" textLength="304" lengthAdjust="spacingAndGlyphs">Wide tread design provides better</text>
<text class="b" x="758" y="671" font-size="21.9" textLength="281" lengthAdjust="spacingAndGlyphs">surface contact for a smoother,</text>
<text class="b" x="758" y="694.5" font-size="21.9" textLength="206" lengthAdjust="spacingAndGlyphs">more dependable ride.</text>

<text class="h" x="443.5" y="848" font-size="29.3" textLength="393" lengthAdjust="spacingAndGlyphs">Durable Radial Construction</text>
<text class="b" x="444" y="891" font-size="21.9" textLength="480" lengthAdjust="spacingAndGlyphs">Available in multiple sizes, the GTW Fusion GTR street</text>
<text class="b" x="444" y="914.4" font-size="21.9" textLength="459" lengthAdjust="spacingAndGlyphs">tire features a premium 4-ply radial construction for</text>
<text class="b" x="444" y="937.5" font-size="21.9" textLength="360.5" lengthAdjust="spacingAndGlyphs">more even wear and a longer overall life.</text>
</svg>
</body></html>
